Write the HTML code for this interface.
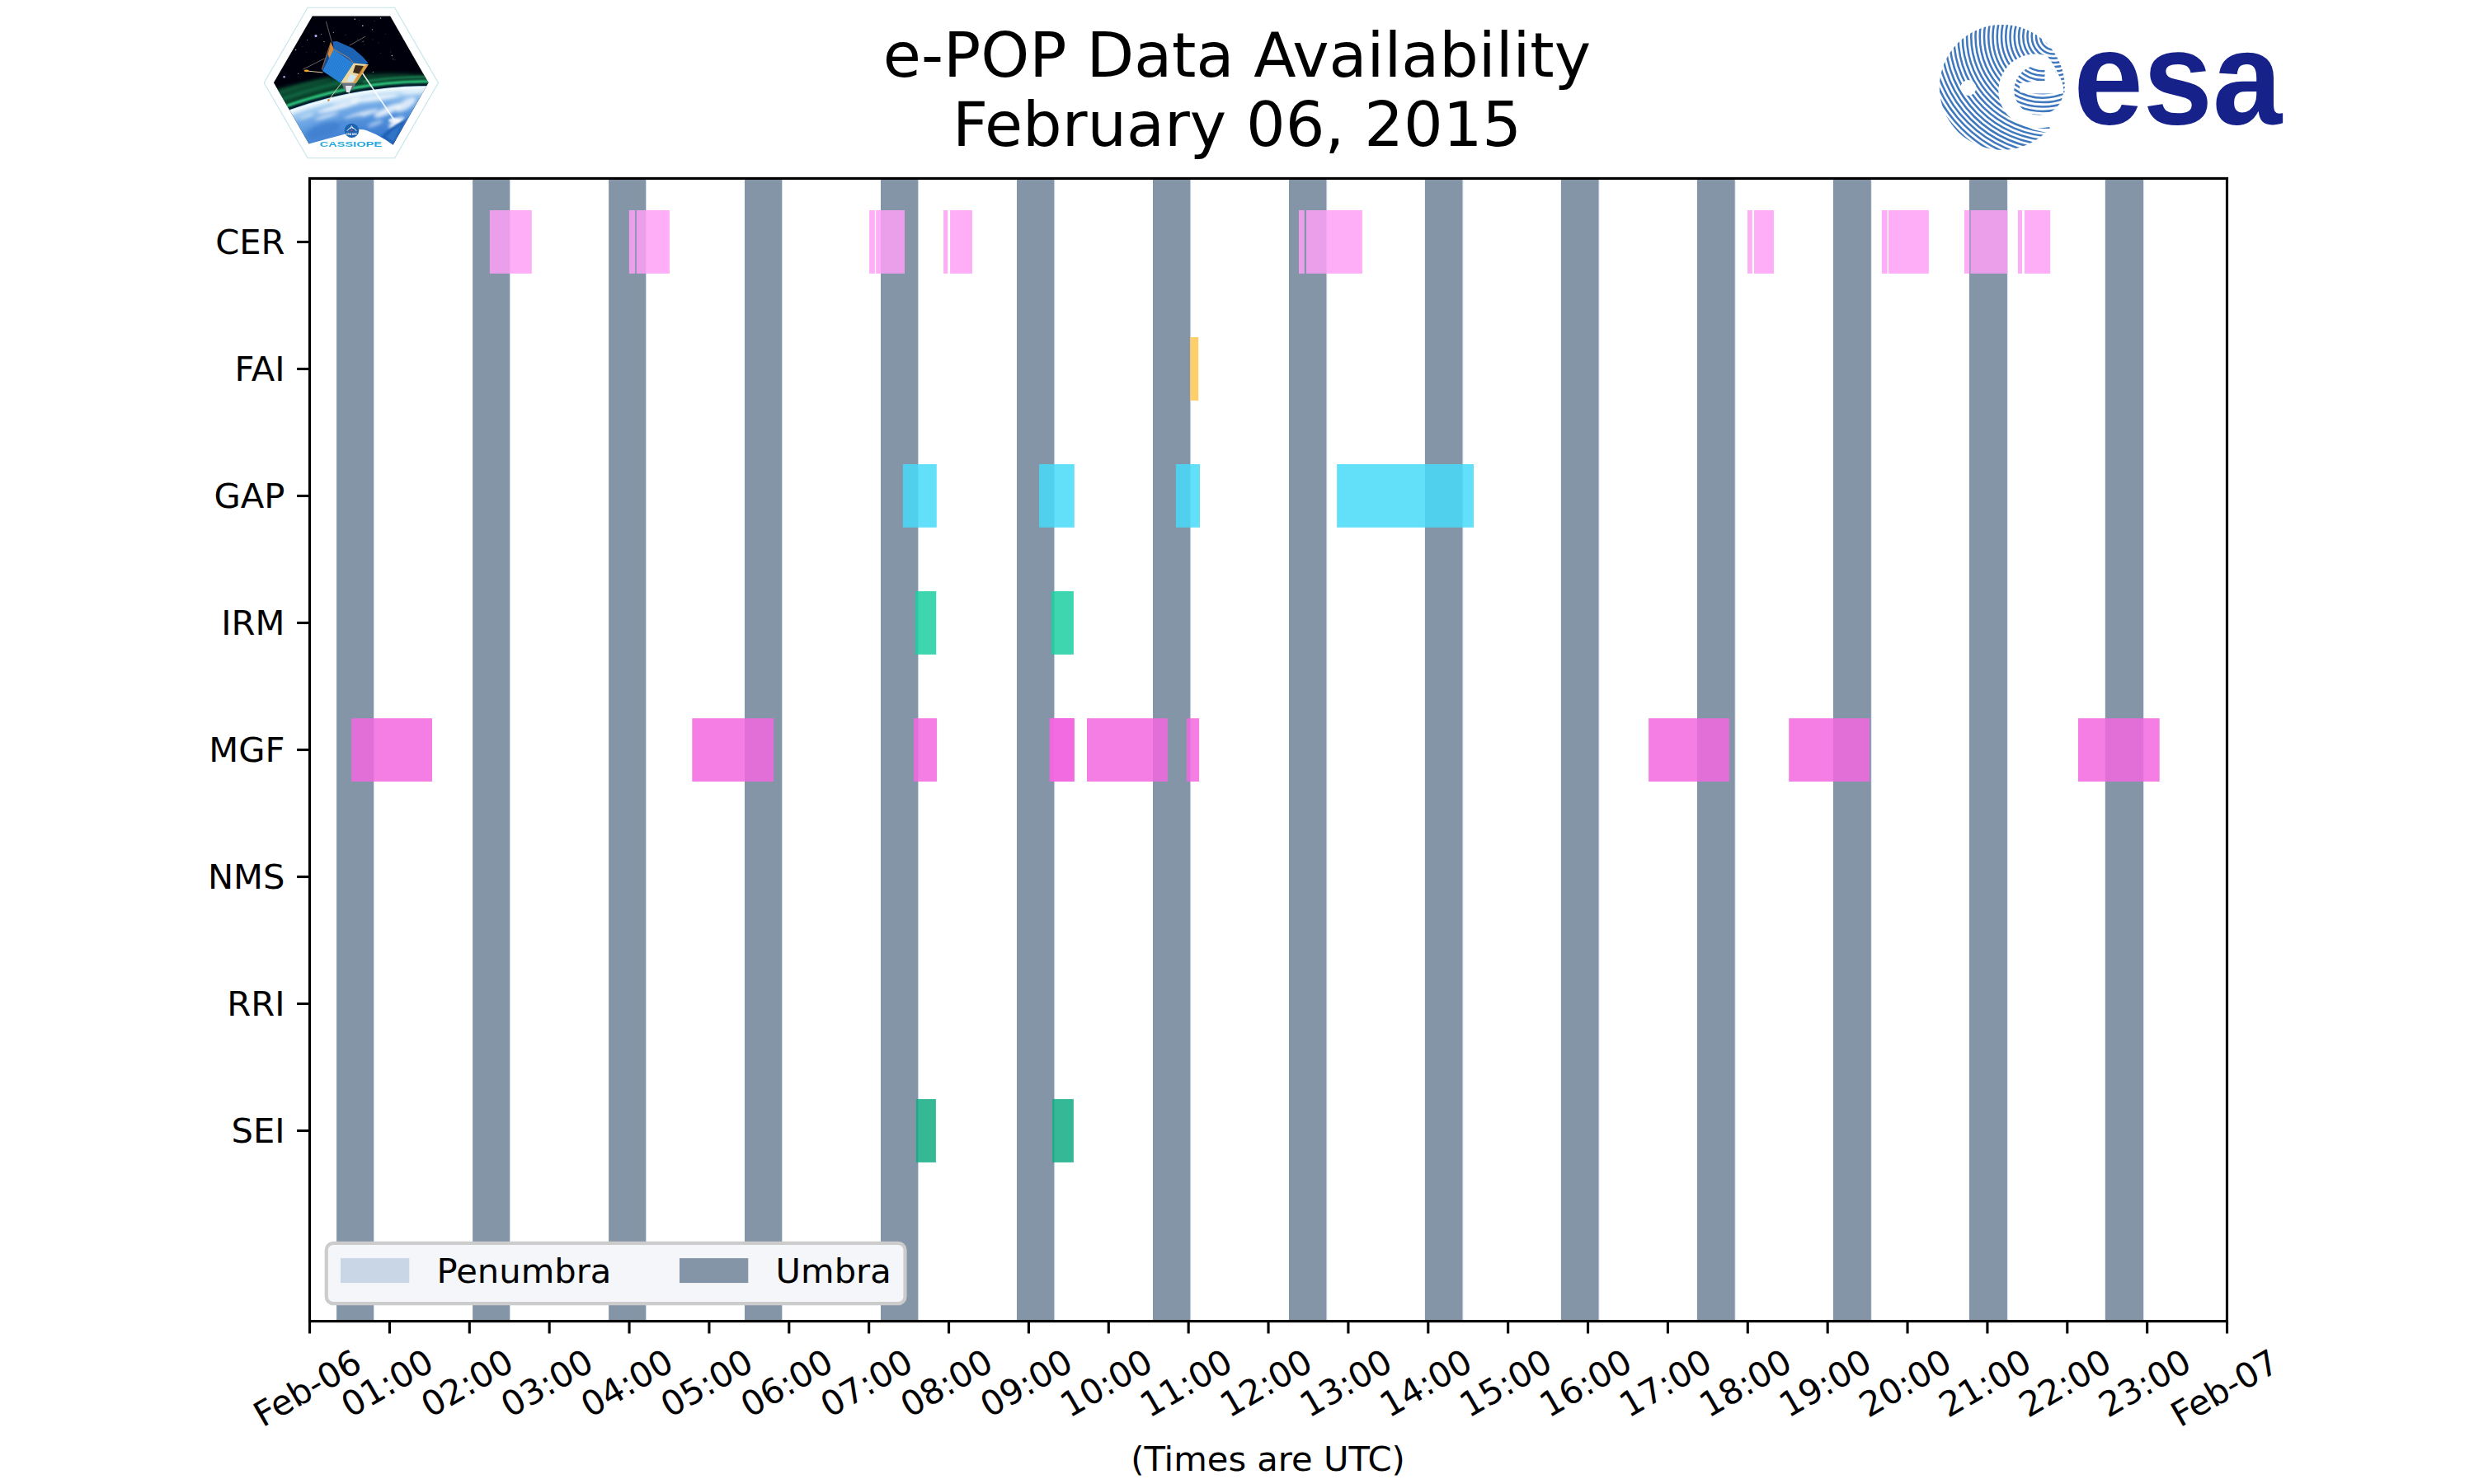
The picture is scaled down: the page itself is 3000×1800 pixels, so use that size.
<!DOCTYPE html>
<html lang="en"><head><meta charset="utf-8"><title>e-POP Data Availability</title>
<style>html,body{margin:0;padding:0;background:#fff;}body{width:3000px;height:1800px;overflow:hidden;}svg{display:block;}text{font-family:"DejaVu Sans","Liberation Sans",sans-serif;fill:#000;}</style></head><body>
<svg width="3000" height="1800" viewBox="0 0 3000 1800">
<rect width="3000" height="1800" fill="#fff"/>
<g id="umbra">
<rect x="408.1" y="216" width="45.0" height="1386" fill="#8595a8"/>
<rect x="453.1" y="216" width="0.7" height="1386" fill="#c8d6e6" fill-opacity="0.8"/>
<rect x="573.1" y="216" width="45.1" height="1386" fill="#8595a8"/>
<rect x="618.2" y="216" width="0.7" height="1386" fill="#c8d6e6" fill-opacity="0.8"/>
<rect x="738.1" y="216" width="45.2" height="1386" fill="#8595a8"/>
<rect x="783.2" y="216" width="0.7" height="1386" fill="#c8d6e6" fill-opacity="0.8"/>
<rect x="903.0" y="216" width="45.3" height="1386" fill="#8595a8"/>
<rect x="948.3" y="216" width="0.7" height="1386" fill="#c8d6e6" fill-opacity="0.8"/>
<rect x="1068.0" y="216" width="45.4" height="1386" fill="#8595a8"/>
<rect x="1113.4" y="216" width="0.7" height="1386" fill="#c8d6e6" fill-opacity="0.8"/>
<rect x="1233.0" y="216" width="45.5" height="1386" fill="#8595a8"/>
<rect x="1278.5" y="216" width="0.7" height="1386" fill="#c8d6e6" fill-opacity="0.8"/>
<rect x="1398.0" y="216" width="45.5" height="1386" fill="#8595a8"/>
<rect x="1443.5" y="216" width="0.7" height="1386" fill="#c8d6e6" fill-opacity="0.8"/>
<rect x="1563.0" y="216" width="45.6" height="1386" fill="#8595a8"/>
<rect x="1608.6" y="216" width="0.7" height="1386" fill="#c8d6e6" fill-opacity="0.8"/>
<rect x="1727.9" y="216" width="45.7" height="1386" fill="#8595a8"/>
<rect x="1773.7" y="216" width="0.7" height="1386" fill="#c8d6e6" fill-opacity="0.8"/>
<rect x="1892.9" y="216" width="45.8" height="1386" fill="#8595a8"/>
<rect x="1938.7" y="216" width="0.7" height="1386" fill="#c8d6e6" fill-opacity="0.8"/>
<rect x="2057.9" y="216" width="45.9" height="1386" fill="#8595a8"/>
<rect x="2103.8" y="216" width="0.7" height="1386" fill="#c8d6e6" fill-opacity="0.8"/>
<rect x="2222.9" y="216" width="46.0" height="1386" fill="#8595a8"/>
<rect x="2268.9" y="216" width="0.7" height="1386" fill="#c8d6e6" fill-opacity="0.8"/>
<rect x="2387.9" y="216" width="46.1" height="1386" fill="#8595a8"/>
<rect x="2433.9" y="216" width="0.7" height="1386" fill="#c8d6e6" fill-opacity="0.8"/>
<rect x="2552.8" y="216" width="46.2" height="1386" fill="#8595a8"/>
<rect x="2599.0" y="216" width="0.7" height="1386" fill="#c8d6e6" fill-opacity="0.8"/>
</g>
<g id="bars" fill-opacity="0.85">
<rect x="593.9" y="255.0" width="50.9" height="76.8" fill="rgb(253,160,246)"/>
<rect x="762.9" y="255.0" width="7.3" height="76.8" fill="rgb(253,160,246)"/>
<rect x="771.9" y="255.0" width="40.0" height="76.8" fill="rgb(253,160,246)"/>
<rect x="1054.1" y="255.0" width="6.8" height="76.8" fill="rgb(253,160,246)"/>
<rect x="1062.1" y="255.0" width="34.9" height="76.8" fill="rgb(253,160,246)"/>
<rect x="1144.1" y="255.0" width="5.1" height="76.8" fill="rgb(253,160,246)"/>
<rect x="1152.1" y="255.0" width="26.9" height="76.8" fill="rgb(253,160,246)"/>
<rect x="1575.0" y="255.0" width="6.8" height="76.8" fill="rgb(253,160,246)"/>
<rect x="1584.0" y="255.0" width="67.9" height="76.8" fill="rgb(253,160,246)"/>
<rect x="2119.0" y="255.0" width="5.8" height="76.8" fill="rgb(253,160,246)"/>
<rect x="2127.0" y="255.0" width="24.0" height="76.8" fill="rgb(253,160,246)"/>
<rect x="2281.9" y="255.0" width="6.8" height="76.8" fill="rgb(253,160,246)"/>
<rect x="2290.0" y="255.0" width="48.9" height="76.8" fill="rgb(253,160,246)"/>
<rect x="2381.9" y="255.0" width="6.5" height="76.8" fill="rgb(253,160,246)"/>
<rect x="2389.6" y="255.0" width="44.7" height="76.8" fill="rgb(253,160,246)"/>
<rect x="2446.9" y="255.0" width="5.1" height="76.8" fill="rgb(253,160,246)"/>
<rect x="2454.9" y="255.0" width="31.3" height="76.8" fill="rgb(253,160,246)"/>
<rect x="1443.2" y="409.0" width="10.0" height="76.8" fill="rgb(252,199,80)"/>
<rect x="1094.9" y="563.0" width="40.9" height="76.8" fill="rgb(71,218,249)"/>
<rect x="1260.1" y="563.0" width="42.7" height="76.8" fill="rgb(71,218,249)"/>
<rect x="1425.9" y="563.0" width="29.1" height="76.8" fill="rgb(71,218,249)"/>
<rect x="1621.1" y="563.0" width="165.9" height="76.8" fill="rgb(71,218,249)"/>
<rect x="1110.0" y="717.1" width="25.2" height="76.8" fill="rgb(28,207,161)"/>
<rect x="1274.9" y="717.1" width="27.0" height="76.8" fill="rgb(28,207,161)"/>
<rect x="426.1" y="871.2" width="97.9" height="76.8" fill="rgb(242,103,223)"/>
<rect x="839.3" y="871.2" width="98.8" height="76.8" fill="rgb(242,103,223)"/>
<rect x="1107.9" y="871.2" width="28.2" height="76.8" fill="rgb(242,103,223)"/>
<rect x="1272.8" y="871.2" width="30.0" height="76.8" fill="rgb(242,103,223)"/>
<rect x="1272.8" y="871.2" width="30.0" height="76.8" fill="rgb(242,103,223)"/>
<rect x="1318.0" y="871.2" width="97.9" height="76.8" fill="rgb(242,103,223)"/>
<rect x="1438.9" y="871.2" width="15.2" height="76.8" fill="rgb(242,103,223)"/>
<rect x="1999.1" y="871.2" width="97.9" height="76.8" fill="rgb(242,103,223)"/>
<rect x="2169.2" y="871.2" width="97.9" height="76.8" fill="rgb(242,103,223)"/>
<rect x="2519.9" y="871.2" width="98.8" height="76.8" fill="rgb(242,103,223)"/>
<rect x="1110.9" y="1333.1" width="24.0" height="76.8" fill="rgb(17,171,130)"/>
<rect x="1276.0" y="1333.1" width="25.9" height="76.8" fill="rgb(17,171,130)"/>
</g>
<rect x="375.5" y="216.45" width="2325" height="1386.1" fill="none" stroke="#000" stroke-width="3.15" stroke-linejoin="miter"/>
<g stroke="#000" stroke-width="3.1">
<line x1="375.55" y1="1602.5" x2="375.55" y2="1617.48"/>
<line x1="472.43" y1="1602.5" x2="472.43" y2="1617.48"/>
<line x1="569.30" y1="1602.5" x2="569.30" y2="1617.48"/>
<line x1="666.17" y1="1602.5" x2="666.17" y2="1617.48"/>
<line x1="763.05" y1="1602.5" x2="763.05" y2="1617.48"/>
<line x1="859.92" y1="1602.5" x2="859.92" y2="1617.48"/>
<line x1="956.80" y1="1602.5" x2="956.80" y2="1617.48"/>
<line x1="1053.67" y1="1602.5" x2="1053.67" y2="1617.48"/>
<line x1="1150.55" y1="1602.5" x2="1150.55" y2="1617.48"/>
<line x1="1247.42" y1="1602.5" x2="1247.42" y2="1617.48"/>
<line x1="1344.30" y1="1602.5" x2="1344.30" y2="1617.48"/>
<line x1="1441.17" y1="1602.5" x2="1441.17" y2="1617.48"/>
<line x1="1538.05" y1="1602.5" x2="1538.05" y2="1617.48"/>
<line x1="1634.92" y1="1602.5" x2="1634.92" y2="1617.48"/>
<line x1="1731.80" y1="1602.5" x2="1731.80" y2="1617.48"/>
<line x1="1828.67" y1="1602.5" x2="1828.67" y2="1617.48"/>
<line x1="1925.55" y1="1602.5" x2="1925.55" y2="1617.48"/>
<line x1="2022.42" y1="1602.5" x2="2022.42" y2="1617.48"/>
<line x1="2119.30" y1="1602.5" x2="2119.30" y2="1617.48"/>
<line x1="2216.18" y1="1602.5" x2="2216.18" y2="1617.48"/>
<line x1="2313.05" y1="1602.5" x2="2313.05" y2="1617.48"/>
<line x1="2409.93" y1="1602.5" x2="2409.93" y2="1617.48"/>
<line x1="2506.80" y1="1602.5" x2="2506.80" y2="1617.48"/>
<line x1="2603.68" y1="1602.5" x2="2603.68" y2="1617.48"/>
<line x1="2700.55" y1="1602.5" x2="2700.55" y2="1617.48"/>
<line x1="375" y1="293.5" x2="360.12" y2="293.5"/>
<line x1="375" y1="447.5" x2="360.12" y2="447.5"/>
<line x1="375" y1="601.5" x2="360.12" y2="601.5"/>
<line x1="375" y1="755.5" x2="360.12" y2="755.5"/>
<line x1="375" y1="909.5" x2="360.12" y2="909.5"/>
<line x1="375" y1="1063.5" x2="360.12" y2="1063.5"/>
<line x1="375" y1="1217.5" x2="360.12" y2="1217.5"/>
<line x1="375" y1="1371.5" x2="360.12" y2="1371.5"/>
</g>
<g font-size="41.6667px" text-anchor="end">
<text x="345.5" y="308.3">CER</text>
<text x="345.5" y="462.3">FAI</text>
<text x="345.5" y="616.3">GAP</text>
<text x="345.5" y="770.3">IRM</text>
<text x="345.5" y="924.3">MGF</text>
<text x="345.5" y="1078.3">NMS</text>
<text x="345.5" y="1232.3">RRI</text>
<text x="345.5" y="1386.3">SEI</text>
</g>
<g font-size="41.6667px" text-anchor="middle">
<text transform="translate(374.20,1686.27) rotate(-30)" y="11.50">Feb-06</text>
<text transform="translate(471.07,1680.26) rotate(-30)" y="11.50">01:00</text>
<text transform="translate(567.95,1680.26) rotate(-30)" y="11.50">02:00</text>
<text transform="translate(664.83,1680.26) rotate(-30)" y="11.50">03:00</text>
<text transform="translate(761.70,1680.26) rotate(-30)" y="11.50">04:00</text>
<text transform="translate(858.58,1680.26) rotate(-30)" y="11.50">05:00</text>
<text transform="translate(955.45,1680.26) rotate(-30)" y="11.50">06:00</text>
<text transform="translate(1052.33,1680.26) rotate(-30)" y="11.50">07:00</text>
<text transform="translate(1149.20,1680.26) rotate(-30)" y="11.50">08:00</text>
<text transform="translate(1246.08,1680.26) rotate(-30)" y="11.50">09:00</text>
<text transform="translate(1342.95,1680.26) rotate(-30)" y="11.50">10:00</text>
<text transform="translate(1439.83,1680.26) rotate(-30)" y="11.50">11:00</text>
<text transform="translate(1536.70,1680.26) rotate(-30)" y="11.50">12:00</text>
<text transform="translate(1633.58,1680.26) rotate(-30)" y="11.50">13:00</text>
<text transform="translate(1730.45,1680.26) rotate(-30)" y="11.50">14:00</text>
<text transform="translate(1827.33,1680.26) rotate(-30)" y="11.50">15:00</text>
<text transform="translate(1924.20,1680.26) rotate(-30)" y="11.50">16:00</text>
<text transform="translate(2021.08,1680.26) rotate(-30)" y="11.50">17:00</text>
<text transform="translate(2117.95,1680.26) rotate(-30)" y="11.50">18:00</text>
<text transform="translate(2214.82,1680.26) rotate(-30)" y="11.50">19:00</text>
<text transform="translate(2311.70,1680.26) rotate(-30)" y="11.50">20:00</text>
<text transform="translate(2408.57,1680.26) rotate(-30)" y="11.50">21:00</text>
<text transform="translate(2505.45,1680.26) rotate(-30)" y="11.50">22:00</text>
<text transform="translate(2602.32,1680.26) rotate(-30)" y="11.50">23:00</text>
<text transform="translate(2699.20,1686.27) rotate(-30)" y="11.50">Feb-07</text>
</g>
<text x="1537.5" y="1784.4" font-size="41.6667px" text-anchor="middle">(Times are UTC)</text>
<g font-size="75px" text-anchor="middle"><text x="1500" y="92.6">e-POP Data Availability</text><text x="1500" y="177.3">February 06, 2015</text></g>
<g id="legend">
<rect x="395.8" y="1507.9" width="701.7" height="73.3" rx="8.3" ry="8.3" fill="#f5f6fa" stroke="#cccccc" stroke-width="4.17"/>
<rect x="413" y="1526.1" width="83.3" height="30" fill="#c8d6e6"/>
<text x="529.6" y="1555.6" font-size="41.6667px">Penumbra</text>
<rect x="824" y="1526.1" width="83.3" height="30" fill="#8595a8"/>
<text x="940.6" y="1555.6" font-size="41.6667px">Umbra</text>
</g>
<defs>
<clipPath id="hexclip"><polygon points="331.9,100.3 378.8,19.4 473.2,19.4 519.5,100.3 473.2,181.6 378.8,181.6"/></clipPath>
<filter id="b1" x="-20%" y="-20%" width="140%" height="140%"><feGaussianBlur stdDeviation="1"/></filter>
<filter id="b2" x="-30%" y="-30%" width="160%" height="160%"><feGaussianBlur stdDeviation="2.2"/></filter>
<filter id="b3" x="-30%" y="-30%" width="160%" height="160%"><feGaussianBlur stdDeviation="3.5"/></filter>
<filter id="b05" x="-20%" y="-20%" width="140%" height="140%"><feGaussianBlur stdDeviation="0.55"/></filter>
<radialGradient id="earthg" gradientUnits="userSpaceOnUse" cx="519" cy="604" r="500"><stop offset="0.84" stop-color="#2963ba"/><stop offset="0.89" stop-color="#3d7dd0"/><stop offset="0.93" stop-color="#5291dc"/><stop offset="0.962" stop-color="#72aae6"/><stop offset="0.982" stop-color="#a3cdf0"/><stop offset="0.991" stop-color="#dcedfa"/><stop offset="0.997" stop-color="#f4fbfe"/><stop offset="1" stop-color="#8fc4ea"/></radialGradient>
</defs>
<polygon points="320.2,100.5 373.1,9.3 478.6,9.3 531.5,100.5 478.6,191.8 373.1,191.8" fill="#fff" stroke="#c3e4e9" stroke-width="1.1" filter="url(#b05)"/>
<g clip-path="url(#hexclip)">
<g filter="url(#b05)">
<rect x="325" y="12" width="205" height="180" fill="#050507"/>
<circle cx="383" cy="43.4" r="1.5" fill="#b9b4ff"/>
<circle cx="344.6" cy="93.3" r="1.3" fill="#a9a4f0"/>
<circle cx="439.8" cy="31.2" r="0.8" fill="#ddd"/>
<circle cx="430.3" cy="23.2" r="0.7" fill="#ccc"/>
<circle cx="461.5" cy="22" r="0.7" fill="#bbb"/>
<circle cx="475.4" cy="67.5" r="0.7" fill="#ccc"/>
<circle cx="358.6" cy="60.5" r="0.7" fill="#ccc"/>
<circle cx="393" cy="50.6" r="0.7" fill="#bbb"/>
<circle cx="404.4" cy="39.3" r="0.6" fill="#aaa"/>
<circle cx="440" cy="50.5" r="0.6" fill="#aaa"/>
<circle cx="451.5" cy="35.8" r="0.6" fill="#bbb"/>
<circle cx="361.6" cy="89.3" r="0.6" fill="#aaa"/>
<circle cx="372.7" cy="48.5" r="0.6" fill="#999"/>
<circle cx="389.5" cy="41.5" r="0.6" fill="#999"/>
<circle cx="476.7" cy="71.7" r="0.5" fill="#aaa"/>
<circle cx="452.4" cy="87.4" r="0.6" fill="#999"/>
<circle cx="396.7" cy="31.3" r="0.4" fill="#777"/>
<circle cx="453.9" cy="25.4" r="0.4" fill="#777"/>
<circle cx="433.8" cy="47.4" r="0.4" fill="#777"/>
<circle cx="350.1" cy="58.1" r="0.4" fill="#777"/>
<circle cx="346.6" cy="52.5" r="0.4" fill="#777"/>
<circle cx="352.2" cy="26.8" r="0.4" fill="#777"/>
<circle cx="414.3" cy="82.0" r="0.4" fill="#777"/>
<circle cx="361.7" cy="36.7" r="0.4" fill="#777"/>
<circle cx="449.8" cy="91.1" r="0.4" fill="#777"/>
<circle cx="441.0" cy="49.8" r="0.4" fill="#777"/>
<circle cx="510.8" cy="23.5" r="0.4" fill="#777"/>
<circle cx="490.2" cy="41.7" r="0.4" fill="#777"/>
<circle cx="365.2" cy="28.8" r="0.4" fill="#777"/>
<circle cx="394.0" cy="81.2" r="0.4" fill="#777"/>
<circle cx="371.6" cy="63.6" r="0.4" fill="#777"/>
<circle cx="451.8" cy="47.9" r="0.4" fill="#777"/>
<circle cx="435.9" cy="24.7" r="0.4" fill="#777"/>
<circle cx="350.4" cy="35.4" r="0.4" fill="#777"/>
<circle cx="459.1" cy="52.1" r="0.4" fill="#777"/>
<circle cx="395.0" cy="63.9" r="0.4" fill="#777"/>
<circle cx="419.3" cy="42.5" r="0.4" fill="#777"/>
<circle cx="479.0" cy="72.4" r="0.4" fill="#777"/>
<circle cx="382.7" cy="63.1" r="0.4" fill="#777"/>
<circle cx="431.9" cy="85.6" r="0.4" fill="#777"/>
<circle cx="467.7" cy="41.6" r="0.4" fill="#777"/>
<circle cx="511.5" cy="28.9" r="0.4" fill="#777"/>
<circle cx="413.2" cy="76.8" r="0.4" fill="#777"/>
<circle cx="366.6" cy="56.7" r="0.4" fill="#777"/>
<circle cx="346.9" cy="70.1" r="0.4" fill="#777"/>
<circle cx="473.8" cy="63.0" r="0.4" fill="#777"/>
<circle cx="493.2" cy="43.5" r="0.4" fill="#777"/>
<circle cx="461.7" cy="64.6" r="0.4" fill="#777"/>
<circle cx="441.5" cy="54.2" r="0.4" fill="#777"/>
<circle cx="487.0" cy="90.9" r="0.4" fill="#777"/>
<circle cx="423.0" cy="69.8" r="0.4" fill="#777"/>
<circle cx="350.6" cy="72.6" r="0.4" fill="#777"/>
<circle cx="453.2" cy="94.5" r="0.4" fill="#777"/>
<circle cx="483.8" cy="41.3" r="0.4" fill="#777"/>
<circle cx="407.5" cy="70.1" r="0.4" fill="#777"/>
<circle cx="343.9" cy="54.6" r="0.4" fill="#777"/>
</g>
<path d="M325.0,141.0 L331.8,138.2 L338.7,135.5 L345.5,132.9 L352.3,130.5 L359.2,128.1 L366.0,125.9 L372.8,123.8 L379.7,121.7 L386.5,119.8 L393.3,118.0 L400.2,116.3 L407.0,114.7 L413.8,113.1 L420.7,111.7 L427.5,110.4 L434.3,109.2 L441.2,108.1 L448.0,107.0 L454.8,106.1 L461.7,105.3 L468.5,104.5 L475.3,103.9 L482.2,103.4 L489.0,102.9 L495.8,102.5 L502.7,102.3 L509.5,102.1 L516.3,102.0 L523.2,102.0 L530.0,102.1 L530.0,92.1 L523.2,91.4 L516.3,90.8 L509.5,90.3 L502.7,89.9 L495.8,89.5 L489.0,89.3 L482.2,89.2 L475.3,89.1 L468.5,89.1 L461.7,89.3 L454.8,89.5 L448.0,89.8 L441.2,90.2 L434.3,90.7 L427.5,91.3 L420.7,91.9 L413.8,92.7 L407.0,93.6 L400.2,94.5 L393.3,95.5 L386.5,96.7 L379.7,97.9 L372.8,99.2 L366.0,100.6 L359.2,102.2 L352.3,103.8 L345.5,105.5 L338.7,107.3 L331.8,109.2 L325.0,111.2 Z" fill="#0a5a38" filter="url(#b2)" opacity="0.7"/>
<path d="M325.0,139.5 L331.8,136.7 L338.7,134.0 L345.5,131.4 L352.3,129.0 L359.2,126.6 L366.0,124.4 L372.8,122.3 L379.7,120.3 L386.5,118.4 L393.3,116.5 L400.2,114.8 L407.0,113.2 L413.8,111.7 L420.7,110.3 L427.5,109.0 L434.3,107.8 L441.2,106.7 L448.0,105.6 L454.8,104.7 L461.7,103.9 L468.5,103.1 L475.3,102.5 L482.2,101.9 L489.0,101.5 L495.8,101.1 L502.7,100.9 L509.5,100.7 L516.3,100.6 L523.2,100.6 L530.0,100.7 L530.0,97.3 L523.2,97.2 L516.3,97.2 L509.5,97.3 L502.7,97.4 L495.8,97.7 L489.0,98.0 L482.2,98.5 L475.3,99.0 L468.5,99.6 L461.7,100.3 L454.8,101.1 L448.0,102.0 L441.2,103.0 L434.3,104.1 L427.5,105.3 L420.7,106.6 L413.8,108.0 L407.0,109.5 L400.2,111.1 L393.3,112.7 L386.5,114.5 L379.7,116.4 L372.8,118.4 L366.0,120.5 L359.2,122.7 L352.3,125.0 L345.5,127.4 L338.7,130.0 L331.8,132.6 L325.0,135.4 Z" fill="#2ecb80" filter="url(#b1)" opacity="0.95"/>
<path d="M325.0,129.1 L328.8,127.5 L332.7,126.0 L336.5,124.6 L340.3,123.1 L344.2,121.7 L348.0,120.3 L351.8,119.0 L355.7,117.7 L359.5,116.4 L363.3,115.2 L367.2,114.0 L371.0,112.8 L374.8,111.7 L378.7,110.6 L382.5,109.5 L386.3,108.5 L390.2,107.4 L394.0,106.5 L397.8,105.5 L401.7,104.6 L405.5,103.7 L409.3,102.9 L413.2,102.0 L417.0,101.2 L420.8,100.5 L424.7,99.7 L428.5,99.0 L432.3,98.4 L436.2,97.7 L440.0,97.1 L440.0,93.9 L436.2,94.5 L432.3,95.1 L428.5,95.8 L424.7,96.4 L420.8,97.1 L417.0,97.9 L413.2,98.6 L409.3,99.4 L405.5,100.2 L401.7,101.1 L397.8,101.9 L394.0,102.9 L390.2,103.8 L386.3,104.8 L382.5,105.8 L378.7,106.8 L374.8,107.9 L371.0,109.0 L367.2,110.1 L363.3,111.3 L359.5,112.5 L355.7,113.7 L351.8,114.9 L348.0,116.2 L344.2,117.6 L340.3,118.9 L336.5,120.3 L332.7,121.8 L328.8,123.2 L325.0,124.7 Z" fill="#1fa266" filter="url(#b2)" opacity="0.55"/>
<path d="M325.0,120.5 L327.5,119.5 L330.0,118.5 L332.5,117.5 L335.0,116.6 L337.5,115.6 L340.0,114.7 L342.5,113.8 L345.0,112.9 L347.5,112.0 L350.0,111.2 L352.5,110.3 L355.0,109.5 L357.5,108.7 L360.0,107.9 L362.5,107.1 L365.0,106.3 L367.5,105.5 L370.0,104.8 L372.5,104.0 L375.0,103.3 L377.5,102.6 L380.0,101.9 L382.5,101.2 L385.0,100.5 L387.5,99.9 L390.0,99.2 L392.5,98.6 L395.0,98.0 L397.5,97.4 L400.0,96.8 L400.0,93.4 L397.5,94.0 L395.0,94.5 L392.5,95.1 L390.0,95.7 L387.5,96.3 L385.0,97.0 L382.5,97.6 L380.0,98.3 L377.5,98.9 L375.0,99.6 L372.5,100.3 L370.0,101.0 L367.5,101.7 L365.0,102.5 L362.5,103.2 L360.0,104.0 L357.5,104.7 L355.0,105.5 L352.5,106.3 L350.0,107.1 L347.5,108.0 L345.0,108.8 L342.5,109.7 L340.0,110.5 L337.5,111.4 L335.0,112.3 L332.5,113.2 L330.0,114.2 L327.5,115.1 L325.0,116.1 Z" fill="#1a8a58" filter="url(#b2)" opacity="0.45"/>
<path d="M440.0,100.7 L443.0,100.2 L446.0,99.8 L449.0,99.3 L452.0,98.9 L455.0,98.5 L458.0,98.2 L461.0,97.8 L464.0,97.5 L467.0,97.2 L470.0,96.9 L473.0,96.6 L476.0,96.3 L479.0,96.1 L482.0,95.8 L485.0,95.6 L488.0,95.4 L491.0,95.3 L494.0,95.1 L497.0,95.0 L500.0,94.9 L503.0,94.8 L506.0,94.7 L509.0,94.6 L512.0,94.5 L515.0,94.5 L518.0,94.5 L521.0,94.5 L524.0,94.5 L527.0,94.6 L530.0,94.6 L530.0,92.1 L527.0,92.1 L524.0,92.0 L521.0,92.0 L518.0,92.0 L515.0,92.0 L512.0,92.0 L509.0,92.1 L506.0,92.1 L503.0,92.2 L500.0,92.3 L497.0,92.4 L494.0,92.5 L491.0,92.7 L488.0,92.9 L485.0,93.0 L482.0,93.2 L479.0,93.5 L476.0,93.7 L473.0,93.9 L470.0,94.2 L467.0,94.5 L464.0,94.8 L461.0,95.1 L458.0,95.5 L455.0,95.8 L452.0,96.2 L449.0,96.6 L446.0,97.0 L443.0,97.5 L440.0,97.9 Z" fill="#2fc07c" filter="url(#b1)" opacity="0.5"/>
<path d="M325.0,141.4 L333.5,137.9 L342.1,134.6 L350.6,131.5 L359.2,128.5 L367.7,125.8 L376.2,123.1 L384.8,120.7 L393.3,118.4 L401.9,116.3 L410.4,114.3 L419.0,112.5 L427.5,110.8 L436.0,109.3 L444.6,108.0 L453.1,106.7 L461.7,105.7 L470.2,104.8 L478.8,104.0 L487.3,103.4 L495.8,102.9 L504.4,102.6 L512.9,102.4 L521.5,102.4 L530.0,102.5" fill="none" stroke="#0a2a4a" stroke-width="1.6" filter="url(#b1)" opacity="0.8"/>
<circle cx="519" cy="604" r="500" fill="url(#earthg)" filter="url(#b05)"/>
<g filter="url(#b2)" fill="#fff">
<ellipse cx="410" cy="130" rx="26" ry="2.6" transform="rotate(-14 410 130)" opacity="0.85"/>
<ellipse cx="455" cy="119" rx="30" ry="3" transform="rotate(-8 455 119)" opacity="0.8"/>
<ellipse cx="438" cy="139" rx="22" ry="3" transform="rotate(-16 438 139)" opacity="0.75"/>
<ellipse cx="470" cy="134" rx="18" ry="4.5" transform="rotate(-25 470 134)" opacity="0.8"/>
<ellipse cx="396" cy="141" rx="15" ry="2" transform="rotate(-16 396 141)" opacity="0.65"/>
<ellipse cx="492" cy="127" rx="14" ry="5.5" transform="rotate(-32 492 127)" opacity="0.75"/>
<ellipse cx="481" cy="149" rx="11" ry="5" transform="rotate(-35 481 149)" opacity="0.85"/>
<ellipse cx="455" cy="150" rx="10" ry="2.2" transform="rotate(-20 455 150)" opacity="0.55"/>
<ellipse cx="500" cy="112" rx="16" ry="2.2" transform="rotate(-4 500 112)" opacity="0.7"/>
<ellipse cx="372" cy="141" rx="10" ry="1.8" transform="rotate(-18 372 141)" opacity="0.5"/>
<ellipse cx="420" cy="122" rx="18" ry="1.8" transform="rotate(-13 420 122)" opacity="0.7"/>
</g>
<g filter="url(#b2)">
<ellipse cx="392" cy="158" rx="22" ry="8" transform="rotate(-18 392 158)" fill="#3f7fcf" opacity="0.85"/>
<ellipse cx="425" cy="146" rx="16" ry="4" transform="rotate(-15 425 146)" fill="#4a8ad6" opacity="0.7"/>
</g>
<polygon points="494.5,143 477,176 461,166.5 470,158 482,150" fill="#2461b6" filter="url(#b1)"/>
<polygon points="487,151 477,172 468,166 476,158" fill="#2f74c8" filter="url(#b1)"/>
<line x1="439.4" y1="88.5" x2="478" y2="145.5" stroke="#fff" stroke-width="1.6" opacity="0.9" filter="url(#b05)"/>
<ellipse cx="478" cy="146" rx="7" ry="3" fill="#fff" opacity="0.8" filter="url(#b1)"/>
<g filter="url(#b05)">
<g stroke="#8a8a80" stroke-width="0.7" fill="none"><line x1="395.4" y1="26" x2="402.3" y2="51"/><line x1="423.6" y1="55.2" x2="442.9" y2="44.3"/><line x1="367.3" y1="84.2" x2="393.8" y2="70.9"/></g>
<g stroke="#d9c9a0" stroke-width="1" fill="none"><line x1="372" y1="86" x2="391.5" y2="88"/><line x1="413.8" y1="101" x2="398.8" y2="121"/><line x1="417" y1="101" x2="424" y2="114"/></g>
<ellipse cx="371.6" cy="85.8" rx="3" ry="1.4" fill="#f5a623"/><circle cx="398.3" cy="121.6" r="1.3" fill="#d98a2b"/>
<polygon points="414,100 432,100 428,108 418,110" fill="#6b7480"/><polygon points="419,104 427,104 424,112 420,112" fill="#dfe6ee"/>
<polygon points="401.2,51.2 405,59.7 391.6,86.4 390.2,84.2" fill="#1a4c96"/><polygon points="401.2,51.2 405,59.7 399.5,71 397.6,66" fill="#d98a35"/><polyline points="401.2,51.2 390.2,84.2" fill="none" stroke="#c9772a" stroke-width="0.8"/>
<polygon points="403.3,50.4 408.5,50 427.8,58.4 440,69 446.6,76.5 443,78.3 428.6,76.4 404.6,59.7" fill="#1f63b6"/>
<polygon points="428.6,76.4 446.8,78.2 432,100.4 412.8,100.4" fill="#e9d6a0"/>
<polygon points="431,79 441,80 437,90 428,88" fill="#3a2c1c"/>
<polygon points="425,90 432,92 428,99 420,99" fill="#cfe6f3"/>
<polygon points="441,80 446.8,78.2 432,100.4 428,100.4" fill="#d8902f" opacity="0.8"/>
<polygon points="404.6,59.7 428.6,76.4 412.8,100.4 391.4,86.3" fill="#2c86dc"/>
<g stroke="#1c66bd" stroke-width="0.5">
<line x1="406.6" y1="61.1" x2="393.2" y2="87.5"/>
<line x1="408.6" y1="62.5" x2="395.0" y2="88.7"/>
<line x1="410.6" y1="63.9" x2="396.8" y2="89.8"/>
<line x1="412.6" y1="65.3" x2="398.5" y2="91.0"/>
<line x1="414.6" y1="66.7" x2="400.3" y2="92.2"/>
<line x1="416.6" y1="68.1" x2="402.1" y2="93.3"/>
<line x1="418.6" y1="69.4" x2="403.9" y2="94.5"/>
<line x1="420.6" y1="70.8" x2="405.7" y2="95.7"/>
<line x1="422.6" y1="72.2" x2="407.4" y2="96.9"/>
<line x1="424.6" y1="73.6" x2="409.2" y2="98.1"/>
<line x1="426.6" y1="75.0" x2="411.0" y2="99.2"/>
</g>
<polyline points="404.6,59.7 422.8,70 428.6,76.4" fill="none" stroke="#d8903a" stroke-width="0.7"/>
</g>
</g>
<path d="M372,176 L374.7,174.5 L395.4,168.7 L416.2,163.2 L428,159 Q436,155.5 445.2,158.4 Q457,162.5 467.5,169.6 L479,177.5 L479,186 L372,186 Z" fill="#fff" filter="url(#b05)"/>
<g filter="url(#b05)"><circle cx="426.5" cy="158.4" r="8.7" fill="#1b62ae"/>
<path d="M420.8,158.8 Q426.5,150.5 432.2,158.8" fill="none" stroke="#fff" stroke-width="1"/><path d="M424.6,156.3 L426.3,152.4 L428.3,156.1" fill="none" stroke="#fff" stroke-width="0.7"/>
<circle cx="426.2" cy="158.3" r="1.1" fill="#e8384a"/>
<text x="426.5" y="163.9" font-size="3.1px" font-weight="bold" text-anchor="middle" style="font-family:'Liberation Sans',sans-serif;fill:#fff">CSA ASC</text></g>
<text x="387.8" y="178.1" font-size="9px" font-weight="bold" textLength="75.4" lengthAdjust="spacingAndGlyphs" filter="url(#b05)" style="font-family:'Liberation Sans',sans-serif;fill:#22a6e3">CASSIOPE</text>
<defs>
<clipPath id="esabig"><circle cx="2427.8" cy="105.9" r="76.0"/></clipPath>
<clipPath id="esaglobe"><circle cx="2472.3" cy="109.5" r="30.0"/></clipPath>
<filter id="esab" x="-5%" y="-5%" width="110%" height="110%"><feGaussianBlur stdDeviation="0.5"/></filter>
</defs>
<g filter="url(#esab)">
<g clip-path="url(#esabig)">
<g fill="none" stroke="#3f78be" stroke-width="2.55" transform="rotate(-45 2490.0 44.5)">
<ellipse cx="2490.0" cy="44.5" rx="10.50" ry="10.50"/>
<ellipse cx="2490.0" cy="44.5" rx="15.75" ry="15.75"/>
<ellipse cx="2490.0" cy="44.5" rx="21.00" ry="21.00"/>
<ellipse cx="2490.0" cy="44.5" rx="26.25" ry="26.25"/>
<ellipse cx="2490.0" cy="44.5" rx="31.50" ry="31.50"/>
<ellipse cx="2490.0" cy="44.5" rx="36.75" ry="36.75"/>
<ellipse cx="2490.0" cy="44.5" rx="42.00" ry="42.00"/>
<ellipse cx="2490.0" cy="44.5" rx="47.25" ry="47.25"/>
<ellipse cx="2490.0" cy="44.5" rx="52.50" ry="52.50"/>
<ellipse cx="2490.0" cy="44.5" rx="57.75" ry="57.75"/>
<ellipse cx="2490.0" cy="44.5" rx="63.00" ry="63.00"/>
<ellipse cx="2490.0" cy="44.5" rx="68.25" ry="68.25"/>
<ellipse cx="2490.0" cy="44.5" rx="73.50" ry="73.50"/>
<ellipse cx="2490.0" cy="44.5" rx="78.75" ry="78.75"/>
<ellipse cx="2490.0" cy="44.5" rx="84.00" ry="84.00"/>
<ellipse cx="2490.0" cy="44.5" rx="89.25" ry="89.25"/>
<ellipse cx="2490.0" cy="44.5" rx="94.50" ry="94.50"/>
<ellipse cx="2490.0" cy="44.5" rx="99.75" ry="99.75"/>
<ellipse cx="2490.0" cy="44.5" rx="105.00" ry="105.00"/>
<ellipse cx="2490.0" cy="44.5" rx="110.25" ry="110.25"/>
<ellipse cx="2490.0" cy="44.5" rx="115.50" ry="115.50"/>
<ellipse cx="2490.0" cy="44.5" rx="120.75" ry="120.75"/>
<ellipse cx="2490.0" cy="44.5" rx="126.00" ry="126.00"/>
<ellipse cx="2490.0" cy="44.5" rx="131.25" ry="131.25"/>
<ellipse cx="2490.0" cy="44.5" rx="136.50" ry="136.50"/>
<ellipse cx="2490.0" cy="44.5" rx="141.75" ry="141.75"/>
<ellipse cx="2490.0" cy="44.5" rx="147.00" ry="147.00"/>
<ellipse cx="2490.0" cy="44.5" rx="152.25" ry="152.25"/>
<ellipse cx="2490.0" cy="44.5" rx="157.50" ry="157.50"/>
<ellipse cx="2490.0" cy="44.5" rx="162.75" ry="162.75"/>
<ellipse cx="2490.0" cy="44.5" rx="168.00" ry="168.00"/>
<ellipse cx="2490.0" cy="44.5" rx="173.25" ry="173.25"/>
<ellipse cx="2490.0" cy="44.5" rx="178.50" ry="178.50"/>
</g>
</g>
<path d="M2492.0,161.5 L2487.0,160.9 L2479.7,160.5 L2466.0,157.3 L2452.7,151.9 L2449.8,150.8 L2447.0,149.4 L2444.3,147.8 L2441.7,146.1 L2439.3,144.2 L2437.0,142.1 L2434.8,139.9 L2432.8,137.5 L2431.0,135.0 L2429.4,132.3 L2427.9,129.6 L2426.6,126.8 L2425.6,123.9 L2424.7,120.9 L2424.1,117.8 L2423.6,114.8 L2423.4,111.7 L2423.4,108.5 L2423.6,105.4 L2424.1,102.4 L2424.7,99.3 L2425.6,96.3 L2426.6,93.4 L2427.9,90.6 L2429.4,87.8 L2431.0,85.2 L2432.8,82.7 L2434.8,80.3 L2437.0,78.1 L2439.3,76.0 L2441.7,74.1 L2444.3,72.4 L2447.0,70.8 L2449.8,69.4 L2452.7,68.3 L2455.6,67.3 L2458.6,66.6 L2461.7,66.0 L2464.8,65.7 L2467.9,65.6 L2471.0,65.7 L2474.1,66.0 L2477.2,66.6 L2480.2,67.3 L2483.1,68.3 L2483.4,68.9 L2487.9,75.6 L2492.3,82.3 L2495.7,88.9 L2497.9,95.6 L2500.1,103.4 L2500.7,112.3 L2512,112.3 L2512,162 Z" fill="#fff"/>
<path d="M2470.5,155.9 L2485.2,154 L2485.8,155.9 Z" fill="#3f78be"/>
<g clip-path="url(#esaglobe)">
<circle cx="2472.3" cy="109.5" r="29.4" fill="#fff"/>
<g fill="none" stroke="#3f78be" stroke-width="2.5">
<circle cx="2477.2" cy="55.4" r="30.9"/>
<circle cx="2477.2" cy="55.4" r="36.3"/>
<circle cx="2477.2" cy="55.4" r="41.7"/>
<circle cx="2477.2" cy="55.4" r="47.1"/>
<circle cx="2477.2" cy="55.4" r="52.5"/>
<circle cx="2477.2" cy="55.4" r="57.9"/>
<circle cx="2477.2" cy="55.4" r="63.3"/>
<circle cx="2477.2" cy="55.4" r="68.7"/>
<circle cx="2477.2" cy="55.4" r="74.1"/>
<circle cx="2477.2" cy="55.4" r="79.5"/>
<circle cx="2477.2" cy="55.4" r="84.9"/>
</g>
<polygon points="2449.1,101 2461.2,99.3 2479.5,98.6 2479.5,76 2506,76 2506,113.6 2466,113.6 2449.7,112.2 2449.1,107.4" fill="#fff"/>
</g>
<circle cx="2386.8" cy="106.5" r="9.4" fill="#fff"/>
</g>
<text transform="translate(2514.5,150.4) scale(0.9387,1)" font-size="161.3px" font-weight="bold" filter="url(#esab)" style="font-family:'Liberation Sans',sans-serif;fill:#13208a">esa</text>
</svg></body></html>
